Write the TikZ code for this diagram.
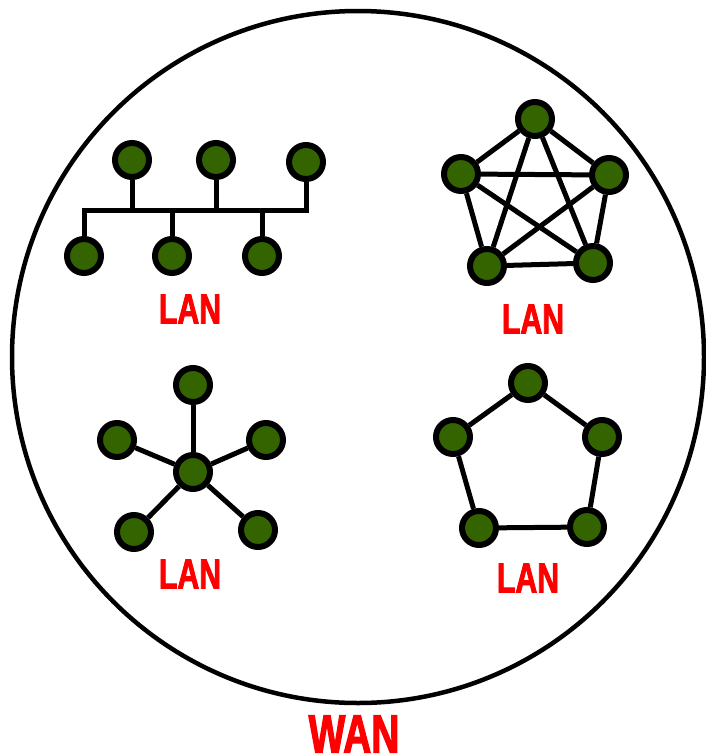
\documentclass[tikz,border=0pt]{standalone}
\usepackage{fontspec}
\newfontfamily\labfont[FakeStretch=0.72,FakeBold=2]{Liberation Sans}
\definecolor{nodegreen}{RGB}{51,100,0}
\definecolor{labred}{RGB}{255,0,0}
\begin{document}
\begin{tikzpicture}[x=1pt,y=-1pt,
  host/.style={circle,draw=black,fill=nodegreen,line width=6pt,minimum size=34pt,inner sep=0pt},
  link/.style={draw=black,line width=5pt},
  lanlabel/.style={text=labred,font=\labfont\bfseries\fontsize{42}{42}\selectfont,inner sep=0pt},
  wanlabel/.style={text=labred,font=\labfont\bfseries\fontsize{54}{54}\selectfont,inner sep=0pt}]
\useasboundingbox (0,0) rectangle (706,755);
% WAN circle
\node[draw=black,line width=4.5pt,circle,minimum size=692pt,inner sep=0pt] (wan) at (358,357) {};
\node[wanlabel] (wanlbl) at (354,734) {WAN};

% Bus LAN
\node[host] (t1) at (132,160) {};
\node[host] (t2) at (216,160) {};
\node[host] (t3) at (306,162) {};
\node[host] (b1) at (84,256) {};
\node[host] (b2) at (172,256) {};
\node[host] (b3) at (262,256) {};
\coordinate (bus) at (82,210);
\path[link,line join=miter] (b1) -- (b1 |- bus) -- (t3 |- bus) -- (t3);
\path[link] (t1) -- (t1 |- bus);
\path[link] (t2) -- (t2 |- bus);
\path[link] (b2) -- (b2 |- bus);
\path[link] (b3) -- (b3 |- bus);
\node[lanlabel] (lan1) at (190,309) {LAN};

% Mesh LAN
\node[host] (m1) at (535,119) {};
\node[host] (m2) at (461,174) {};
\node[host] (m3) at (609,175) {};
\node[host] (m4) at (487,266) {};
\node[host] (m5) at (593,263) {};
\foreach \a/\b in {m1/m2,m1/m3,m1/m4,m1/m5,m2/m3,m2/m4,m2/m5,m3/m4,m3/m5,m4/m5}
  \path[link] (\a) -- (\b);
\node[lanlabel] (lan2) at (533,319) {LAN};

% Star LAN
\node[host] (sc) at (193,472) {};
\node[host] (s1) at (193,385) {};
\node[host] (s2) at (117,440) {};
\node[host] (s3) at (266,440) {};
\node[host] (s4) at (134,532) {};
\node[host] (s5) at (258,530) {};
\foreach \b in {s1,s2,s3,s4,s5}
  \path[link] (sc) -- (\b);
\node[lanlabel] (lan3) at (190,574) {LAN};

% Ring LAN
\node[host] (r1) at (528,383) {};
\node[host] (r2) at (453,437) {};
\node[host] (r3) at (602,437) {};
\node[host] (r4) at (479,528) {};
\node[host] (r5) at (587,527) {};
\path[link] (r1) -- (r2);
\path[link] (r1) -- (r3);
\path[link] (r2) -- (r4);
\path[link] (r3) -- (r5);
\path[link] (r4) -- (r5);
\node[lanlabel] (lan4) at (528,578) {LAN};
\end{tikzpicture}
\end{document}
